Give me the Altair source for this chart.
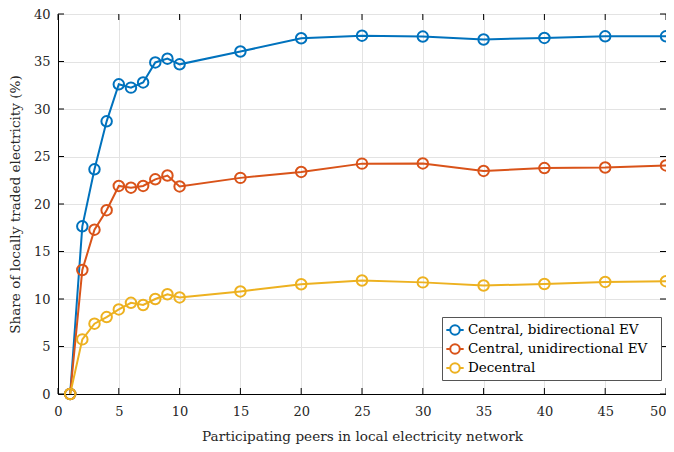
import altair as alt
import pandas as pd

peers = [1, 2, 3, 4, 5, 6, 7, 8, 9, 10, 15, 20, 25, 30, 35, 40, 45, 50]
central_bidirectional = [0, 17.65, 23.65, 28.7, 32.6, 32.25, 32.8, 34.9, 35.3, 34.7,
                         36.05, 37.45, 37.72, 37.62, 37.32, 37.48, 37.65, 37.65]
central_unidirectional = [0, 13.05, 17.3, 19.35, 21.9, 21.72, 21.9, 22.6, 23.0, 21.85,
                          22.75, 23.38, 24.25, 24.27, 23.48, 23.78, 23.84, 24.06]
decentral = [0, 5.75, 7.4, 8.1, 8.9, 9.6, 9.37, 10.0, 10.5, 10.17,
             10.8, 11.55, 11.95, 11.75, 11.42, 11.58, 11.8, 11.88]

series_names = ["Central, bidirectional EV", "Central, unidirectional EV", "Decentral"]
series_colors = ["#0072BD", "#D95319", "#EDB120"]
x_ticks = [0, 5, 10, 15, 20, 25, 30, 35, 40, 45, 50]
y_ticks = [0, 5, 10, 15, 20, 25, 30, 35, 40]

rows = []
for name, vals in zip(series_names, [central_bidirectional, central_unidirectional, decentral]):
    for p, v in zip(peers, vals):
        rows.append({"peers": p, "share": v, "series": name})
df = pd.DataFrame(rows)

W, H = 608, 380
FONT = "DejaVu Serif"
TICK = 6
BLANK = "\u2800"

xscale = alt.Scale(domain=[0, 50], nice=False, zero=False)
yscale = alt.Scale(domain=[0, 40], nice=False)

color = alt.Color(
    "series:N",
    scale=alt.Scale(domain=series_names, range=series_colors),
    legend=alt.Legend(
        title=None,
        orient="none",
        legendX=384,
        legendY=303,
        fillColor="white",
        strokeColor="#555555",
        padding=3,
        rowPadding=0,
        labelFont=FONT,
        labelFontSize=13.5,
        labelColor="black",
        labelLimit=400,
        labelExpr="datum.label + '" + BLANK + "'",
        symbolType="M -1 0 L -0.55 0 M 0.55 0 L 1 0 M -0.55 0 A 0.55 0.55 0 1 0 0.55 0 A 0.55 0.55 0 1 0 -0.55 0",
        symbolSize=300,
        symbolStrokeWidth=2,
        symbolFillColor="transparent",
        labelOffset=3,
    ),
)

base = alt.Chart(df)

lines = base.mark_line(strokeWidth=2).encode(
    x=alt.X("peers:Q", scale=xscale,
            axis=alt.Axis(values=x_ticks, title="Participating peers in local electricity network",
                          grid=True, ticks=False, labelFlush=False, labelPadding=11, titlePadding=11,
                          labelAlign={"condition": {"test": "datum.value === 50", "value": "right"},
                                      "value": "center"})),
    y=alt.Y("share:Q", scale=yscale,
            axis=alt.Axis(values=y_ticks, title="Share of locally traded electricity (%)",
                          grid=True, ticks=False, labelFlush=False, labelPadding=8, titlePadding=11)),
    color=color,
)

points = base.mark_point(shape="circle", filled=False, size=110, strokeWidth=2, opacity=1).encode(
    x=alt.X("peers:Q", scale=xscale),
    y=alt.Y("share:Q", scale=yscale),
    color=alt.Color("series:N", scale=alt.Scale(domain=series_names, range=series_colors), legend=None),
)

xt = pd.DataFrame({"t": x_ticks})
yt = pd.DataFrame({"t": y_ticks})

bottom_ticks = alt.Chart(xt).mark_rule(color="black", strokeWidth=1).encode(
    x=alt.X("t:Q", scale=xscale), y=alt.value(H), y2=alt.value(H - TICK))
top_ticks = alt.Chart(xt).mark_rule(color="black", strokeWidth=1).encode(
    x=alt.X("t:Q", scale=xscale), y=alt.value(0), y2=alt.value(TICK))
left_ticks = alt.Chart(yt).mark_rule(color="black", strokeWidth=1).encode(
    y=alt.Y("t:Q", scale=yscale), x=alt.value(0), x2=alt.value(TICK))
right_ticks = alt.Chart(yt).mark_rule(color="black", strokeWidth=1).encode(
    y=alt.Y("t:Q", scale=yscale), x=alt.value(W), x2=alt.value(W - TICK))

chart = alt.layer(lines, points, bottom_ticks, top_ticks, left_ticks, right_ticks).properties(
    width=W, height=H,
    autosize=alt.AutoSizeParams(type="none"),
    padding={"left": 50, "top": 6, "right": 0, "bottom": 50},
    background="white",
).configure_view(
    stroke="black", strokeWidth=1
).configure_axis(
    labelFont=FONT, labelFontSize=13, labelColor="#262626",
    titleFont=FONT, titleFontSize=13.6, titleFontWeight="normal", titleColor="#262626",
    gridColor="#e3e3e3", gridWidth=1, domainColor="black", domainWidth=1,
)

chart.save("out.html", embed_options={"renderer": "svg", "actions": False})
